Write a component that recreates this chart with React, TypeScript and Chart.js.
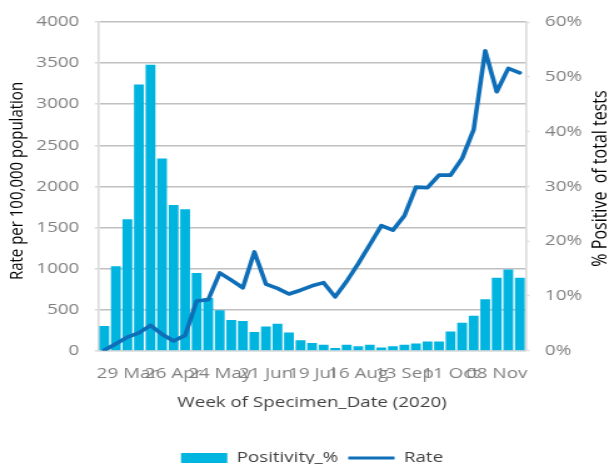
import React, { useEffect, useRef } from 'react';
import { Chart, registerables } from 'chart.js';

Chart.register(...registerables);

// ---- data ----
const weeks: string[] = [
  '15 Mar', '22 Mar', '29 Mar', '05 Apr', '12 Apr', '19 Apr', '26 Apr', '03 May', '10 May', '17 May',
  '24 May', '31 May', '07 Jun', '14 Jun', '21 Jun', '28 Jun', '05 Jul', '12 Jul', '19 Jul', '26 Jul',
  '02 Aug', '09 Aug', '16 Aug', '23 Aug', '30 Aug', '06 Sep', '13 Sep', '20 Sep', '27 Sep', '04 Oct',
  '11 Oct', '18 Oct', '25 Oct', '01 Nov', '08 Nov', '15 Nov', '22 Nov',
];

// % positive of total tests (right axis)
const positivityPct: number[] = [
  4.5, 15.4, 24.0, 48.6, 52.2, 35.1, 26.6, 25.8, 14.2, 9.6,
  7.4, 5.6, 5.4, 3.4, 4.4, 4.9, 3.3, 1.9, 1.4, 1.1,
  0.5, 1.1, 0.8, 1.1, 0.6, 0.8, 1.1, 1.3, 1.7, 1.7,
  3.5, 5.1, 6.4, 9.4, 13.3, 14.8, 13.3,
];

// rate per 100,000 population (left axis)
const rate: number[] = [
  5, 85, 165, 217, 308, 200, 119, 186, 604, 620,
  947, 858, 766, 1202, 811, 758, 690, 736, 790, 828,
  655, 845, 1060, 1290, 1522, 1466, 1642, 1990, 1985, 2137,
  2137, 2340, 2690, 3650, 3151, 3435, 3382,
];

const seriesNames = ['Positivity_%', 'Rate'];
const leftTitle = 'Rate per 100,000 population';
const rightTitle = '% Positive  of total tests';
const xTitle = 'Week of Specimen_Date (2020)';
const labelEvery = 4;
const labelStart = 2;

// ---- styling ----
const FONT = "'Open Sans', sans-serif";
const BAR_COLOR = '#00B4E0';
const LINE_COLOR = '#0E6EB8';
const TICK_COLOR = '#808080';
const GRID_COLOR = '#C0C0C0';
const AXIS_COLOR = '#D9D9D9';

// canvas drawn narrower and stretched horizontally to match the reference
const CSS_W = 609;
const CANVAS_W = 487;
const CANVAS_H = 476;

const titlesPlugin = {
  id: 'rotatedTitles',
  afterDraw(chart: any) {
    const ctx = chart.ctx as CanvasRenderingContext2D;
    ctx.save();
    ctx.fillStyle = '#000000';
    ctx.textAlign = 'center';
    ctx.textBaseline = 'alphabetic';
    ctx.font = `15px ${FONT}`;
    ctx.translate(18.4, 181);
    ctx.rotate(-Math.PI / 2);
    ctx.fillText(leftTitle, 0, 0);
    ctx.restore();

    ctx.save();
    ctx.fillStyle = '#000000';
    ctx.textAlign = 'center';
    ctx.textBaseline = 'alphabetic';
    ctx.font = `16px ${FONT}`;
    ctx.translate(485.2, 178.5);
    ctx.rotate(-Math.PI / 2);
    ctx.fillText(rightTitle, 0, 0);
    ctx.restore();
  },
};

export default function App() {
  const ref = useRef<HTMLCanvasElement | null>(null);

  useEffect(() => {
    if (!ref.current) return;
    Chart.defaults.font.family = FONT;
    const chart = new Chart(ref.current, {
      type: 'bar',
      data: {
        labels: weeks,
        datasets: [
          {
            type: 'bar',
            label: seriesNames[0],
            data: positivityPct,
            yAxisID: 'y1',
            backgroundColor: BAR_COLOR,
            borderWidth: 0,
            categoryPercentage: 1,
            barPercentage: 0.85,
            order: 1,
          } as any,
          {
            type: 'line',
            label: seriesNames[1],
            data: rate,
            yAxisID: 'y',
            borderColor: LINE_COLOR,
            backgroundColor: LINE_COLOR,
            borderWidth: 3.6,
            pointRadius: 0,
            tension: 0,
            borderJoinStyle: 'round',
            borderCapStyle: 'round',
            order: 0,
          } as any,
        ],
      },
      options: {
        responsive: false,
        animation: false,
        layout: { padding: { top: 22, left: 28.8, right: 16.7, bottom: 0.5 } },
        plugins: {
          tooltip: { enabled: false },
          legend: {
            position: 'bottom',
            labels: {
              usePointStyle: true,
              pointStyleWidth: 37,
              boxHeight: 10,
              padding: 8,
              color: '#404040',
              font: { family: FONT, size: 15 },
              sort: (a: any, b: any) => a.datasetIndex - b.datasetIndex,
              generateLabels: (c: any) => {
                const items = Chart.defaults.plugins.legend.labels.generateLabels(c);
                return items.map((it: any) => ({
                  ...it,
                  pointStyle: it.datasetIndex === 0 ? 'rect' : 'line',
                  lineWidth: it.datasetIndex === 0 ? 0 : 3,
                }));
              },
            },
          },
        },
        scales: {
          x: {
            offset: true,
            grid: { display: false, drawTicks: false },
            border: { display: true, color: AXIS_COLOR, width: 1.5 },
            ticks: {
              autoSkip: false,
              maxRotation: 0,
              minRotation: 0,
              padding: 14,
              color: TICK_COLOR,
              font: { family: FONT, size: 15 },
              callback: (_v: any, i: number) => (i % labelEvery === labelStart ? weeks[i] : ''),
            },
            title: {
              display: true,
              text: xTitle,
              color: '#404040',
              font: { family: FONT, size: 15 },
              padding: { top: 11.1, bottom: 30.7 },
            },
            afterFit: (s: any) => { s.height = 91.8; },
          },
          y: {
            position: 'left',
            min: 0,
            max: 4000,
            ticks: {
              stepSize: 500,
              padding: 12.4,
              color: TICK_COLOR,
              font: { family: FONT, size: 15 },
              callback: (v: any) => String(v),
            },
            grid: {
              color: (c: any) => (c.tick && c.tick.value === 0 ? AXIS_COLOR : GRID_COLOR),
              lineWidth: 1.5,
              tickLength: 3,
              tickColor: AXIS_COLOR,
              tickWidth: 1.5,
            },
            border: { display: true, color: AXIS_COLOR, width: 1.6 },
            afterFit: (s: any) => { s.width = 50; },
          },
          y1: {
            position: 'right',
            min: 0,
            max: 60,
            ticks: {
              stepSize: 10,
              padding: 12.5,
              color: TICK_COLOR,
              font: { family: FONT, size: 15 },
              callback: (v: any) => `${v}%`,
            },
            grid: {
              drawOnChartArea: false,
              tickLength: 3,
              tickColor: AXIS_COLOR,
              tickWidth: 1.5,
            },
            border: { display: true, color: AXIS_COLOR, width: 1.6 },
            afterFit: (s: any) => { s.width = 50; },
          },
        },
      } as any,
      plugins: [titlesPlugin],
    });
    return () => chart.destroy();
  }, []);

  return (
    <div
      style={{
        position: 'fixed',
        left: 0,
        top: 0,
        width: CSS_W,
        height: 464,
        overflow: 'hidden',
        background: '#ffffff',
      }}
    >
      <canvas
        ref={ref}
        width={CANVAS_W}
        height={CANVAS_H}
        style={{ width: CSS_W, height: CANVAS_H, display: 'block' }}
      />
    </div>
  );
}
